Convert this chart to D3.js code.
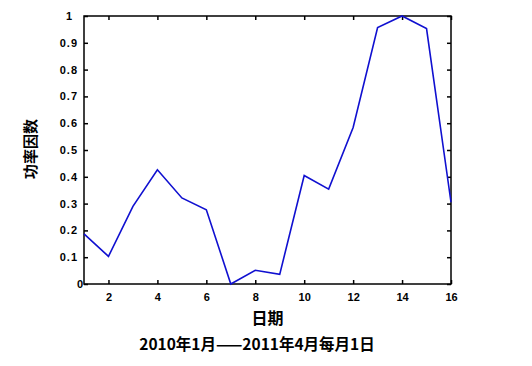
<!DOCTYPE html>
<html><head><meta charset="utf-8">
<script src="https://cdn.jsdelivr.net/npm/d3@7"></script>
<style>body{margin:0;background:#fff}svg{display:block}</style>
</head><body>
<svg id="c" width="532" height="366"></svg>
<script>
const months = [1,2,3,4,5,6,7,8,9,10,11,12,13,14,15,16];
const powerFactor = [0.187,0.103,0.29,0.426,0.321,0.277,0.0,0.051,0.036,0.405,0.354,0.584,0.957,1.0,0.953,0.305];
const xTicks = [2,4,6,8,10,12,14,16];
const yTicks = [0,0.1,0.2,0.3,0.4,0.5,0.6,0.7,0.8,0.9,1];
const yLabel = "功率因数";
const xLabel = "日期";
const subLabel = "2010年1月——2011年4月每月1日";

const svg = d3.select("#c");
const L=84, R=451, T=16, B=284;
const x = d3.scaleLinear().domain([1,16]).range([L,R]);
const y = d3.scaleLinear().domain([0,1]).range([B,T]);
const tickFont = "Liberation Sans, Arial, sans-serif";
const cjk = "'Noto Sans CJK SC', sans-serif";

svg.append("rect").attr("x",L).attr("y",T).attr("width",R-L).attr("height",B-T)
  .attr("fill","none").attr("stroke","#000").attr("stroke-width",1.5);

const fmtY = d => d===0 ? "0" : d===1 ? "1" : d3.format(".1f")(d);
const gl = svg.append("g").attr("transform",`translate(${L},0)`)
  .call(d3.axisLeft(y).tickValues(yTicks).tickSize(-4).tickPadding(7).tickFormat(fmtY));
const gr = svg.append("g").attr("transform",`translate(${R},0)`)
  .call(d3.axisRight(y).tickValues(yTicks).tickSize(-4).tickFormat(""));
const gb = svg.append("g").attr("transform",`translate(0,${B})`)
  .call(d3.axisBottom(x).tickValues(xTicks).tickSize(-4).tickPadding(9).tickFormat(d3.format("d")));
const gt = svg.append("g").attr("transform",`translate(0,${T})`)
  .call(d3.axisTop(x).tickValues(xTicks).tickSize(-4).tickFormat(""));
[gl,gr,gb,gt].forEach(g=>{
  g.select(".domain").remove();
  g.selectAll(".tick line").attr("stroke","#000").attr("stroke-width",1.5);
  g.selectAll("text").attr("fill","#000").attr("font-family",tickFont).attr("font-size",11).attr("font-weight","bold");
});
gl.selectAll(".tick text").attr("letter-spacing",1).attr("dx", d => d===0 ? 7 : d===1 ? -4 : 1);

const line = d3.line().x((d,i)=>x(months[i])).y(d=>y(d));
svg.append("path").datum(powerFactor).attr("d",line)
  .attr("fill","none").attr("stroke","#1010d0").attr("stroke-width",1.6).attr("stroke-linejoin","miter");

svg.append("text").attr("transform",`translate(36,149) rotate(-90)`).attr("text-anchor","middle")
  .attr("font-family",cjk).attr("font-size",15).attr("font-weight","bold").text(yLabel);
svg.append("text").attr("x",(L+R)/2).attr("y",324).attr("text-anchor","middle")
  .attr("font-family",cjk).attr("font-size",16).attr("font-weight","bold").text(xLabel);
svg.append("text").attr("x",257).attr("y",350).attr("text-anchor","middle")
  .attr("font-family",cjk).attr("font-size",15.5).attr("font-weight","bold").text(subLabel);
</script>
</body></html>
